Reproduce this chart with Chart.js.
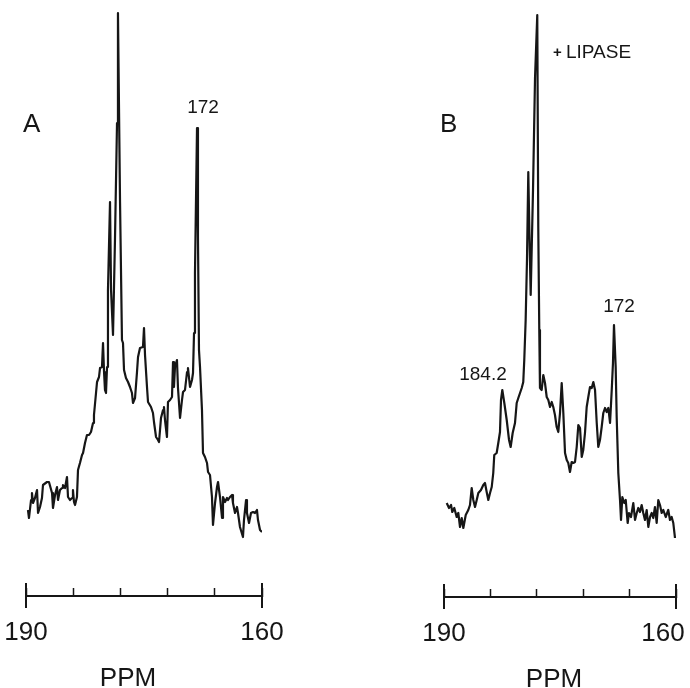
<!DOCTYPE html>
<html>
<head>
<meta charset="utf-8">
<script src="https://cdn.jsdelivr.net/npm/chart.js@4.4.1/dist/chart.umd.min.js"></script>
<style>
  html, body { margin: 0; padding: 0; background: #fff; overflow: hidden; }
  #wrap { position: relative; width: 690px; height: 688px; overflow: hidden; }
  .panel { position: absolute; top: 0; }
  #panelA { left: -30px; }
  #panelB { left: 345px; }
</style>
</head>
<body>
<div id="wrap">
  <div class="panel" id="panelA"><canvas id="chartA" width="375" height="688"></canvas></div>
  <div class="panel" id="panelB"><canvas id="chartB" width="410" height="688"></canvas></div>
</div>
<script>
// chemical shift (ppm) and signal intensity (arbitrary units)
const aPpm = [189.75,189.62,189.36,189.24,189.11,188.86,188.60,188.47,188.22,187.97,
  187.84,187.33,187.08,186.69,186.57,186.31,186.06,185.93,185.68,185.42,
  185.30,185.04,184.79,184.66,184.41,184.15,184.03,183.90,183.77,183.52,
  183.39,183.14,182.88,182.75,182.50,182.25,181.99,181.74,181.48,181.36,
  181.10,180.97,180.72,180.59,180.34,180.21,180.08,179.96,179.83,179.70,
  179.58,179.32,179.19,178.94,178.69,178.43,178.31,178.05,177.80,177.67,
  177.54,177.29,177.03,176.78,176.53,176.40,176.14,175.89,175.76,175.51,
  175.13,175.00,174.87,174.62,174.49,174.11,173.86,173.73,173.47,173.22,
  173.09,172.84,172.58,172.46,172.33,172.08,171.95,171.69,171.44,171.31,
  171.19,171.06,170.81,170.68,170.42,170.17,170.04,169.79,169.53,169.41,
  169.15,168.90,168.77,168.64,168.52,168.26,168.14,168.01,167.88,167.63,
  167.50,167.25,166.99,166.86,166.61,166.36,166.23,165.97,165.72,165.59,
  165.34,165.08,164.96,164.70,164.45,164.32,164.07,163.81,163.69,163.43,
  163.18,163.05,162.80,162.42,162.29,162.03,161.91,161.65,161.40,161.14,
  160.89,160.64,160.51,160.25,160.00];
const aInt = [86,78,96,103,93,98,106,83,89,98,
  111,114,114,103,88,101,109,96,106,108,
  111,108,119,99,96,98,106,94,91,99,
  126,133,141,143,153,161,161,164,173,181,
  203,214,219,228,229,253,224,206,203,229,
  306,394,306,261,356,473,583,396,256,253,
  226,218,214,209,203,193,198,224,239,248,
  249,268,241,209,194,189,183,174,159,156,
  154,178,186,189,176,159,194,196,199,234,
  209,229,236,208,178,196,204,206,224,228,
  209,216,223,263,323,468,359,246,229,186,
  143,139,133,124,121,99,71,93,109,114,
  99,78,99,94,98,96,99,101,93,83,
  89,83,69,59,76,96,83,73,83,84,
  83,86,76,66,64];

const bPpm = [189.65,189.35,189.09,188.93,188.67,188.36,188.15,187.93,187.71,187.50,
  187.19,186.86,186.64,186.42,186.21,185.99,185.77,185.56,185.22,184.92,
  184.70,184.48,184.27,184.05,183.83,183.63,183.50,183.19,182.98,182.76,
  182.63,182.46,182.20,181.89,181.59,181.38,181.12,180.82,180.60,180.39,
  180.17,179.95,179.75,179.62,179.44,179.27,179.10,178.94,178.79,178.49,
  178.23,177.94,177.81,177.68,177.59,177.37,177.16,176.94,176.72,176.51,
  176.29,176.07,175.87,175.65,175.43,175.22,175.00,174.78,174.57,174.35,
  174.13,173.93,173.71,173.49,173.28,173.06,172.84,172.63,172.41,172.19,
  171.99,171.77,171.55,171.34,171.12,170.90,170.69,170.47,170.25,170.05,
  169.83,169.61,169.40,169.18,168.96,168.75,168.53,168.31,168.15,168.02,
  167.80,167.67,167.46,167.24,167.11,166.94,166.69,166.50,166.25,166.08,
  165.82,165.52,165.30,165.08,164.88,164.66,164.44,164.23,164.01,163.79,
  163.58,163.36,163.14,162.94,162.72,162.50,162.29,162.07,161.85,161.64,
  161.33,161.00,160.78,160.56,160.35,160.13];
const bInt = [94,89,92,85,89,80,84,70,79,69,
  82,87,92,109,97,90,97,104,107,112,
  114,105,97,104,110,124,142,144,154,165,
  197,207,194,177,157,150,164,174,194,199,
  204,209,215,237,277,337,425,357,302,407,
  519,582,370,267,209,207,222,214,200,197,
  190,195,190,182,170,165,184,214,184,144,
  137,134,125,135,134,135,150,172,169,140,
  147,164,190,200,210,209,215,207,174,150,
  157,170,184,189,185,189,174,207,234,272,
  230,180,124,97,77,100,94,97,74,84,
  80,94,77,84,89,85,92,84,77,87,
  70,80,84,79,90,74,97,92,84,87,
  80,87,77,80,74,59];

const ppmMin = 160;
const ppmMax = 190;
const ppmStep = 6;
const labelledTicks = [190, 160];

const FONT = '"Liberation Sans", Arial, Helvetica, sans-serif';
const INK = '#161616';

// end caps of the ppm scale and the panel texts
function makeDecor(texts) {
  return {
    id: 'decor',
    afterDraw(chart) {
      const { ctx } = chart;
      const sx = chart.scales.x;
      const base = sx.top;
      ctx.save();
      ctx.strokeStyle = INK;
      ctx.lineWidth = 2;
      [ppmMin, ppmMax].forEach(v => {
        const px = Math.round(sx.getPixelForValue(v));
        ctx.beginPath();
        ctx.moveTo(px, base - 13);
        ctx.lineTo(px, base + 12);
        ctx.stroke();
      });
      ctx.fillStyle = INK;
      ctx.textBaseline = 'alphabetic';
      texts.forEach(t => {
        ctx.font = `${t.weight || 'normal'} ${t.size}px ${FONT}`;
        ctx.textAlign = t.align || 'left';
        ctx.fillText(t.text, t.x, t.y);
      });
      ctx.restore();
    }
  };
}

function drawSpectrum(canvasId, ppm, intensity, axisY, pad, tickLabel, texts) {
  const canvas = document.getElementById(canvasId);
  const axisHeight = canvas.height - axisY;
  return new Chart(canvas.getContext('2d'), {
    type: 'line',
    data: {
      datasets: [{
        data: ppm.map((x, i) => ({ x: x, y: intensity[i] })),
        borderColor: INK,
        borderWidth: 2.2,
        borderJoinStyle: 'round',
        pointRadius: 0,
        tension: 0,
        fill: false
      }]
    },
    options: {
      responsive: false,
      animation: false,
      layout: { padding: { left: pad.left, right: pad.right, top: 0, bottom: 0 } },
      plugins: { legend: { display: false }, tooltip: { enabled: false } },
      scales: {
        x: {
          type: 'linear',
          reverse: true,
          min: ppmMin,
          max: ppmMax,
          border: { display: true, color: INK, width: 2 },
          grid: {
            display: true,
            drawOnChartArea: false,
            drawTicks: true,
            tickLength: -8,
            tickColor: INK,
            tickWidth: 1.5
          },
          ticks: {
            stepSize: ppmStep,
            autoSkip: false,
            maxRotation: 0,
            padding: 29,
            color: INK,
            font: { family: FONT, size: 26 },
            callback: tickLabel
          },
          afterFit: scale => { scale.height = axisHeight; }
        },
        y: {
          display: false,
          min: 0,
          max: axisY
        }
      }
    },
    plugins: [makeDecor(texts)]
  });
}

document.addEventListener('DOMContentLoaded', () => {
  const plainLabel = v => labelledTicks.includes(v) ? String(v) : '';
  // in panel B the right-hand label sits a little left of its tick, against the page edge
  const edgeLabel = v => v === ppmMin ? String(v) + '\u2002\u2002' : plainLabel(v);

  // panel A canvas starts 30px left of the page edge
  drawSpectrum('chartA', aPpm, aInt, 596, { left: 56, right: 83 }, plainLabel, [
    { text: 'A', x: 53, y: 132, size: 26 },
    { text: '172', x: 233, y: 113, size: 19, align: 'center' },
    { text: 'PPM', x: 158, y: 686, size: 26, align: 'center' }
  ]);
  drawSpectrum('chartB', bPpm, bInt, 597, { left: 99, right: 79 }, edgeLabel, [
    { text: 'B', x: 95, y: 132, size: 26 },
    { text: '+', x: 208, y: 57, size: 15, weight: 'bold' },
    { text: 'LIPASE', x: 221, y: 58, size: 19 },
    { text: '172', x: 274, y: 312, size: 19, align: 'center' },
    { text: '184.2', x: 138, y: 380, size: 19, align: 'center' },
    { text: 'PPM', x: 209, y: 687, size: 26, align: 'center' }
  ]);
});
</script>
</body>
</html>
